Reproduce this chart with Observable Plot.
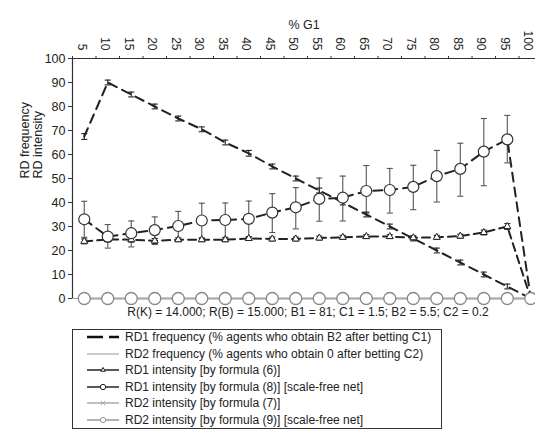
<!DOCTYPE html>
<html>
<head>
<meta charset="utf-8">
<script src="https://cdn.jsdelivr.net/npm/d3@7"></script>
<script src="https://cdn.jsdelivr.net/npm/@observablehq/plot@0.6"></script>
<style>
  html, body { margin: 0; padding: 0; background: #fff; }
  body { width: 535px; height: 429px; overflow: hidden; position: relative; font-family: "Liberation Sans", Arial, sans-serif; color: #222; }
  #chart { position: absolute; left: 0; top: 0; }
  #legend { position: absolute; left: 72px; top: 329px; width: 370px; height: 100px; border: 1px solid #333; box-sizing: border-box; }
  .row { position: absolute; left: 0; height: 16px; display: flex; align-items: center; font-size: 12px; white-space: nowrap; }
  .row svg { margin-left: 14px; margin-right: 6px; }
</style>
</head>
<body>
<div id="chart"></div>
<div id="legend"></div>
<script>
// ---- data ----
const xs = [5,10,15,20,25,30,35,40,45,50,55,60,65,70,75,80,85,90,95,100];
const rd1Freq    = [67.5,90,85,80,75,70.5,65,60.5,55,50,45,40,35,30,25,20,15,10,5,0];
const rd1FreqErr = [1.2,1,1,1,1,1,1,1.2,1,1,1,1,1,1,1,1,1,1,1,0];
const rd1Int6    = [23.8,24.6,24.5,24,24.5,24.5,24.5,25,24.8,24.8,25.2,25.5,25.8,25.8,25.3,25.5,26,27.5,30,0];
const rd1Int6Err = [1,1,1,1,0.8,0.8,0.8,0.8,0.8,0.8,0.8,0.8,0.8,0.8,0.8,0.8,0.8,1,1.2,0];
const rd1Int8    = [33,25.8,27.2,28.5,30.2,32.5,32.7,33.2,35.8,38,41.5,42,44.8,45.2,46.5,51,54,61.2,66.3,0];
const rd1Int8Lo  = [25.5,21,21.5,22.5,24,25,25.5,25.5,27.5,29,32.2,32.3,35.6,35.6,37,40.2,42.6,47,56.5,0];
const rd1Int8Hi  = [40.5,30.8,32.3,34,36.3,39.7,39.8,40.6,43.7,46.2,50.2,51,55.4,54.2,55.5,61.7,64.7,75,76.3,0];
const rd2Freq    = [0,0,0,0,0,0,0,0,0,0,0,0,0,0,0,0,0,0,0,0];
const rd2Int7    = [0,0,0,0,0,0,0,0,0,0,0,0,0,0,0,0,0,0,0,0];
const rd2Int9    = [0,0,0,0,0,0,0,0,0,0,0,0,0,0,0,0,0,0,0,0];
const yTicks = [0,10,20,30,40,50,60,70,80,90,100];
const xTitle = "% G1";
const yTitle = "RD frequency\nRD intensity";
const paramText = "R(K) = 14.000; R(B) = 15.000; B1 = 81; C1 = 1.5; B2 = 5.5; C2 = 0.2";
const legendLabels = [
  "RD1 frequency (% agents who obtain B2 after betting C1)",
  "RD2 frequency (% agents who obtain 0 after betting C2)",
  "RD1 intensity [by formula (6)]",
  "RD1 intensity [by formula (8)] [scale-free net]",
  "RD2 intensity [by formula (7)]",
  "RD2 intensity [by formula (9)] [scale-free net]"
];

// ---- tables ----
const pts = xs.map((x, i) => ({
  x,
  f: rd1Freq[i], fLo: rd1Freq[i] - rd1FreqErr[i], fHi: rd1Freq[i] + rd1FreqErr[i],
  t: rd1Int6[i], tLo: rd1Int6[i] - rd1Int6Err[i], tHi: rd1Int6[i] + rd1Int6Err[i],
  c: rd1Int8[i], cLo: rd1Int8Lo[i], cHi: rd1Int8Hi[i],
  g: rd2Freq[i], g7: rd2Int7[i], g9: rd2Int9[i]
}));
const step = xs[1] - xs[0];
const bounds = xs.map(x => x - step / 2).concat([xs[xs.length - 1] + step / 2]);
const capHalf = 0.65;

function errorBars(lo, hi, color, width) {
  const data = pts.filter(d => d[hi] - d[lo] > 0);
  return [
    Plot.ruleX(data, {x: "x", y1: lo, y2: hi, stroke: color, strokeWidth: width}),
    Plot.link(data, {x1: d => d.x - capHalf, x2: d => d.x + capHalf, y1: lo, y2: lo, stroke: color, strokeWidth: width}),
    Plot.link(data, {x1: d => d.x - capHalf, x2: d => d.x + capHalf, y1: hi, y2: hi, stroke: color, strokeWidth: width})
  ];
}

const chart = Plot.plot({
  width: 535,
  height: 325,
  marginLeft: 72,
  marginRight: 0,
  marginTop: 58,
  marginBottom: 27,
  style: {fontFamily: "Liberation Sans, Arial, sans-serif", fontSize: "12px", color: "#222", background: "transparent", overflow: "visible"},
  x: {type: "linear", domain: [bounds[0], 101], axis: null},
  y: {domain: [0, 100], axis: null},
  marks: [
    // axes
    Plot.axisY({ticks: yTicks, tickSize: 4, tickPadding: 3, label: null, fontSize: 12.5, stroke: "#333"}),
    Plot.axisX({anchor: "top", ticks: xs, tickSize: 0, tickPadding: 8, tickRotate: 90, dx: -2.5, label: null, fontSize: 12}),
    Plot.axisX({anchor: "top", ticks: bounds, tickSize: 3, tickFormat: () => "", label: null, stroke: "#333"}),
    Plot.ruleY([100], {stroke: "#333", strokeWidth: 1.2}),
    Plot.ruleX([bounds[0]], {y1: 0, y2: 100, stroke: "#333", strokeWidth: 1.2}),
    Plot.ruleY([0], {stroke: "#999", strokeWidth: 1.2}),
    // titles
    Plot.text([xTitle], {frameAnchor: "top", dy: -38, fontSize: 12.5, fill: "#222"}),
    Plot.text([yTitle], {frameAnchor: "left", dx: -41, rotate: -90, fontSize: 12.5, lineHeight: 1.0, fill: "#222"}),
    Plot.text([paramText], {frameAnchor: "bottom", dy: 17, dx: 4, fontSize: 12, fill: "#222"}),
    // error bars
    ...errorBars("cLo", "cHi", "#555", 1.1),
    ...errorBars("fLo", "fHi", "#222", 1.1),
    ...errorBars("tLo", "tHi", "#222", 1.1),
    // RD2 lines (gray)
    Plot.line(pts, {x: "x", y: "g", stroke: "#aaa", strokeWidth: 2}),
    Plot.line(pts, {x: "x", y: "g9", stroke: "#aaa", strokeWidth: 1.5}),
    // RD1 lines (dashed)
    Plot.line(pts, {x: "x", y: "f", stroke: "#222", strokeWidth: 2, strokeDasharray: "9,6"}),
    Plot.line(pts, {x: "x", y: "t", stroke: "#222", strokeWidth: 2, strokeDasharray: "8,5"}),
    Plot.line(pts, {x: "x", y: "c", stroke: "#222", strokeWidth: 2, strokeDasharray: "9,6"}),
    // markers
    Plot.dot(pts, {x: "x", y: "g7", symbol: "times", r: 3, stroke: "#999", strokeWidth: 1.2}),
    Plot.dot(pts, {x: "x", y: "g9", symbol: "circle", r: 6, stroke: "#888", fill: "#fff", strokeWidth: 1.3}),
    Plot.dot(pts.filter(d => d.x < 100), {x: "x", y: "t", symbol: "triangle", r: 2.6, stroke: "#222", fill: "#fff", strokeWidth: 1}),
    Plot.dot(pts.filter(d => d.x < 100), {x: "x", y: "c", symbol: "circle", r: 5.5, stroke: "#333", fill: "#fff", strokeWidth: 1.2})
  ]
});
document.getElementById("chart").appendChild(chart);

// ---- legend ----
const legendStyles = [
  {stroke: "#111", width: 2.5, dash: "16,6", marker: null},
  {stroke: "#bbb", width: 1.5, dash: null, marker: null},
  {stroke: "#222", width: 1.5, dash: null, marker: "triangle"},
  {stroke: "#222", width: 1.5, dash: null, marker: "circle"},
  {stroke: "#aaa", width: 1.5, dash: null, marker: "times"},
  {stroke: "#999", width: 1.5, dash: null, marker: "circle"}
];
const legend = document.getElementById("legend");
legendLabels.forEach((label, i) => {
  const s = legendStyles[i];
  const row = document.createElement("div");
  row.className = "row";
  row.style.top = (-1 + i * 16.6) + "px";
  const W = 32, H = 12;
  const svg = d3.create("svg").attr("width", W).attr("height", H);
  svg.append("line").attr("x1", 0).attr("x2", W).attr("y1", H / 2).attr("y2", H / 2)
    .attr("stroke", s.stroke).attr("stroke-width", s.width).attr("stroke-dasharray", s.dash);
  if (s.marker) {
    const sym = {triangle: d3.symbolTriangle2, circle: d3.symbolCircle, times: d3.symbolTimes}[s.marker];
    const size = s.marker === "circle" ? 22 : 14;
    svg.append("path").attr("d", d3.symbol(sym, size)())
      .attr("transform", `translate(${W / 2},${H / 2})`)
      .attr("fill", s.marker === "times" ? "none" : "#fff").attr("stroke", s.stroke).attr("stroke-width", 1);
  }
  row.appendChild(svg.node());
  const span = document.createElement("span");
  span.textContent = label;
  row.appendChild(span);
  legend.appendChild(row);
});
</script>
</body>
</html>
